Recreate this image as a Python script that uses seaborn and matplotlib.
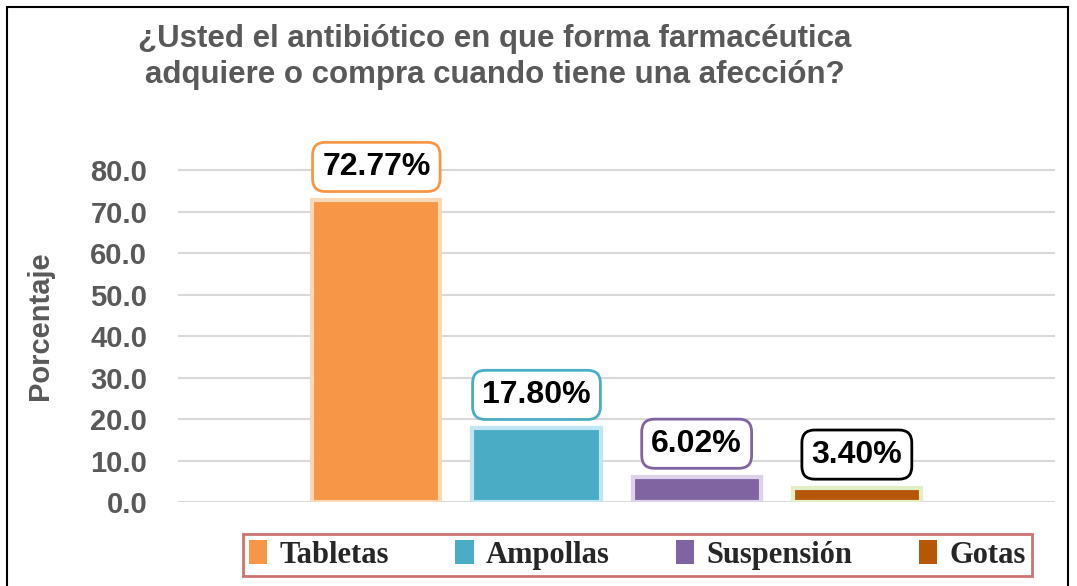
import matplotlib
matplotlib.use("Agg")
import matplotlib.pyplot as plt
import seaborn as sns
import pandas as pd
from matplotlib.patches import Patch, Rectangle

# Data
categories = ["Tabletas", "Ampollas", "Suspensión", "Gotas"]
percentages = [72.77, 17.80, 6.02, 3.40]
bar_colors = ["#f79646", "#4bacc6", "#8064a2", "#b65708"]
glow_colors = ["#fcd9b6", "#bfe6f2", "#ddd2ea", "#e2efc6"]
label_edges = ["#f79646", "#4bacc6", "#8064a2", "#000000"]
yticks = [0, 10, 20, 30, 40, 50, 60, 70, 80]

df = pd.DataFrame({"Forma": categories, "Porcentaje": percentages})

sns.set_style("white")
plt.rcParams["font.family"] = ["Liberation Sans", "DejaVu Sans"]

fig = plt.figure(figsize=(10.77, 5.86), dpi=100)
ax = fig.add_axes([0.165, 0.1433, 0.815, 0.6015])

sns.barplot(data=df, x="Forma", y="Porcentaje", hue="Forma",
            palette=bar_colors, width=0.8, legend=False, ax=ax,
            saturation=1, zorder=3)

for bar, glow in zip(ax.patches, glow_colors):
    bar.set_edgecolor(glow)
    bar.set_linewidth(3)

# value labels in rounded boxes
for i, (val, ec) in enumerate(zip(percentages, label_edges)):
    ax.annotate(f"{val:.2f}%", xy=(i, val), xytext=(0, 24),
                textcoords="offset points", ha="center", va="center",
                fontsize=23, fontweight="bold", color="black", zorder=5,
                bbox=dict(boxstyle="round,pad=0.3,rounding_size=0.4",
                          fc="white", ec=ec, lw=2))

ax.set_xlim(-1.24, 4.24)
ax.set_ylim(0, 85)
ax.set_yticks(yticks)
ax.set_yticklabels([f"{t:.1f}" for t in yticks], fontsize=21,
                   fontweight="bold", color="#595959")
ax.set_xticks([])
ax.set_xlabel("")
ax.set_ylabel("Porcentaje", fontsize=21, fontweight="bold", color="#595959",
              labelpad=26)
ax.yaxis.grid(True, color="#d9d9d9", linewidth=1.5, zorder=0)
ax.tick_params(axis="y", length=0, pad=22)
for s in ax.spines.values():
    s.set_visible(False)

fig.text(0.459, 0.903, "¿Usted el antibiótico en que forma farmacéutica\n"
         "adquiere o compra cuando tiene una afección?",
         ha="center", va="center", fontsize=22.5, fontweight="bold",
         color="#595959", linespacing=1.25)

# outer chart border
fig.patches.append(Rectangle((7 / 1077, -0.1), 1061 / 1077, 1.1 - 7 / 586,
                             transform=fig.transFigure, fill=False,
                             ec="black", lw=1.5))

handles = [Patch(facecolor=c, edgecolor="none") for c in bar_colors]
leg = fig.legend(handles, categories, loc="center", ncol=4,
                 bbox_to_anchor=(243 / 1077, 8 / 586, 789 / 1077, 46 / 586),
                 mode="expand", frameon=True, fancybox=False,
                 handlelength=0.6, handleheight=0.8, handletextpad=0.4,
                 borderpad=0.2, borderaxespad=0,
                 prop={"family": "Liberation Serif",
                       "weight": "bold", "size": 22})
leg.get_frame().set_edgecolor("#c0504d")
leg.get_frame().set_linewidth(2)

fig.savefig("out.png", dpi=100)
